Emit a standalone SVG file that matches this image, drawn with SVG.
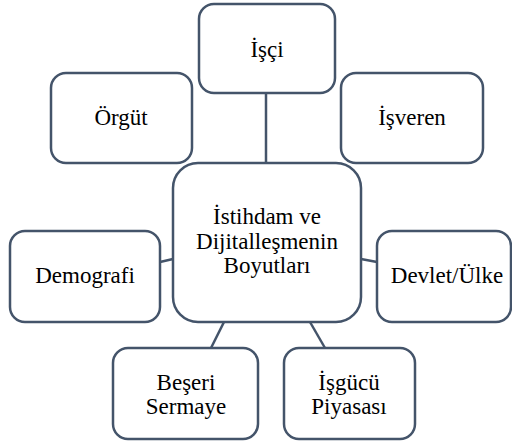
<svg xmlns="http://www.w3.org/2000/svg" width="512" height="444" viewBox="0 0 512 444">
<rect width="512" height="444" fill="#ffffff"/>
<g id="connectors" stroke="#44546a" stroke-width="2.5" fill="none">
<line x1="266" y1="93" x2="266" y2="163"/>
<line x1="160" y1="262" x2="173" y2="259"/>
<line x1="361" y1="259" x2="377" y2="262"/>
<line x1="224" y1="322" x2="211" y2="348"/>
<line x1="310" y1="322" x2="325" y2="348"/>
</g>
<g id="isci">
<rect x="199" y="4" width="136" height="89" rx="15" fill="#ffffff" stroke="#44546a" stroke-width="2.5"/>
<text x="267" y="57" font-family="Liberation Serif" font-size="23" text-anchor="middle">İşçi</text>
</g>
<g id="orgut">
<rect x="51" y="73" width="141" height="90" rx="15" fill="#ffffff" stroke="#44546a" stroke-width="2.5"/>
<text x="121" y="125" font-family="Liberation Serif" font-size="23" text-anchor="middle">Örgüt</text>
</g>
<g id="isveren">
<rect x="341" y="73" width="142" height="90" rx="15" fill="#ffffff" stroke="#44546a" stroke-width="2.5"/>
<text x="412" y="125" font-family="Liberation Serif" font-size="23" text-anchor="middle">İşveren</text>
</g>
<g id="merkez">
<rect x="173" y="163" width="188" height="159" rx="25" fill="#ffffff" stroke="#44546a" stroke-width="2.5"/>
<text x="267" y="224" font-family="Liberation Serif" font-size="23" text-anchor="middle">İstihdam ve</text>
<text x="267" y="249" font-family="Liberation Serif" font-size="23" text-anchor="middle">Dijitalleşmenin</text>
<text x="267" y="273" font-family="Liberation Serif" font-size="23" text-anchor="middle">Boyutları</text>
</g>
<g id="demografi">
<rect x="10" y="231" width="150" height="91" rx="15" fill="#ffffff" stroke="#44546a" stroke-width="2.5"/>
<text x="85" y="283" font-family="Liberation Serif" font-size="23" text-anchor="middle">Demografi</text>
</g>
<g id="devlet">
<rect x="377" y="231" width="134" height="91" rx="15" fill="#ffffff" stroke="#44546a" stroke-width="2.5"/>
<text x="447" y="283" font-family="Liberation Serif" font-size="23" text-anchor="middle">Devlet/Ülke</text>
</g>
<g id="beseri">
<rect x="113" y="348" width="145" height="91" rx="15" fill="#ffffff" stroke="#44546a" stroke-width="2.5"/>
<text x="186" y="390" font-family="Liberation Serif" font-size="23" text-anchor="middle">Beşeri</text>
<text x="186" y="414" font-family="Liberation Serif" font-size="23" text-anchor="middle">Sermaye</text>
</g>
<g id="isgucu">
<rect x="284" y="348" width="131" height="91" rx="15" fill="#ffffff" stroke="#44546a" stroke-width="2.5"/>
<text x="349" y="390" font-family="Liberation Serif" font-size="23" text-anchor="middle">İşgücü</text>
<text x="349" y="414" font-family="Liberation Serif" font-size="23" text-anchor="middle">Piyasası</text>
</g>
</svg>
